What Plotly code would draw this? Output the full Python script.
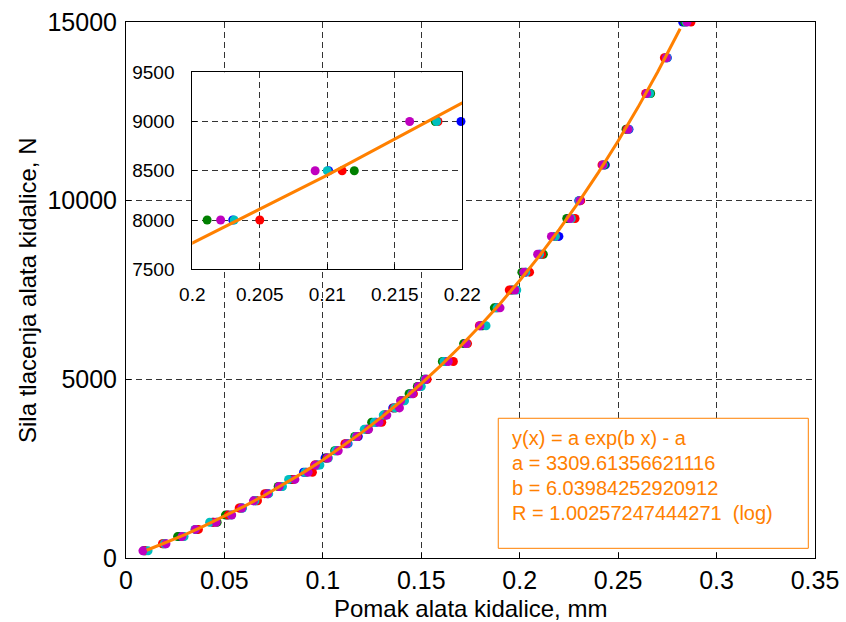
import plotly.graph_objects as go

# Force levels (N)
levels = [200, 400, 600, 800, 1000, 1200, 1400, 1600, 1800, 2000,
          2200, 2400, 2600, 2800, 3000, 3200, 3400, 3600, 3800, 4000,
          4200, 4400, 4600, 4800, 5000, 5500, 6000, 6500, 7000, 7500,
          8000, 8500, 9000, 9500, 10000, 11000, 12000, 13000, 14000, 15000]

# Displacement (mm) of each measurement series at each force level
x_blue = [.0090, .0200, .0270, .0360, .0440, .0515, .0590, .0650, .0722, .0790,
          .0838, .0902, .0975, .1011, .1070, .1128, .1180, .1225, .1270, .1320,
          .1355, .1402, .1445, .1490, .1525, .1620, .1722, .1805, .1880, .1955,
          .2030, .2101, .2199, .2248, .2300, .2435, .2555, .2648, .2750, .2828]
x_green = [.0095, .0190, .0262, .0355, .0463, .0505, .0580, .0660, .0716, .0773,
           .0845, .0915, .0965, .1018, .1060, .1118, .1162, .1230, .1248, .1310,
           .1370, .1397, .1438, .1480, .1515, .1607, .1715, .1812, .1871, .1965,
           .2011, .2120, .2180, .2239, .2305, .2430, .2540, .2665, .2742, .2838]
x_red = [.0100, .0185, .0290, .0368, .0445, .0520, .0575, .0668, .0705, .0785,
         .0850, .0947, .0958, .1022, .1075, .1112, .1175, .1218, .1299, .1315,
         .1360, .1410, .1460, .1495, .1530, .1663, .1735, .1795, .1890, .1947,
         .2050, .2111, .2182, .2281, .2310, .2418, .2545, .2640, .2735, .2870]
x_cyan = [.0112, .0195, .0295, .0350, .0425, .0535, .0592, .0655, .0725, .0795,
          .0826, .0910, .0985, .1028, .1065, .1125, .1168, .1210, .1262, .1307,
          .1365, .1415, .1451, .1500, .1519, .1615, .1728, .1829, .1885, .1985,
          .2031, .2100, .2181, .2262, .2302, .2425, .2552, .2660, .2748, .2845]
x_magenta = [.0086, .0203, .0284, .0352, .0458, .0537, .0588, .0648, .0719, .0778,
             .0858, .0925, .0962, .1025, .1078, .1120, .1172, .1232, .1285, .1325,
             .1389, .1395, .1455, .1485, .1522, .1637, .1727, .1798, .1900, .1975,
             .2021, .2091, .2161, .2255, .2306, .2422, .2550, .2645, .2745, .2850]

# Fitted curve y(x) = a exp(b x) - a
fit_x = [0.0105, 0.02, 0.03, 0.04, 0.05, 0.06, 0.07, 0.08, 0.09, 0.10,
         0.11, 0.12, 0.13, 0.14, 0.15, 0.16, 0.17, 0.18, 0.19, 0.20,
         0.21, 0.22, 0.23, 0.24, 0.25, 0.26, 0.27, 0.2815]
fit_y = [217, 425, 657, 905, 1167, 1446, 1742, 2056, 2390, 2745,
         3122, 3523, 3948, 4400, 4880, 5389, 5931, 6507, 7118, 7766,
         8456, 9189, 9967, 10793, 11671, 12604, 13594, 14811]

fit_text = ["y(x) = a exp(b x) - a",
            "a = 3309.61356621116",
            "b = 6.03984252920912",
            "R = 1.00257247444271\u00a0\u00a0(log)"]

main_xticks = [0, 0.05, 0.1, 0.15, 0.2, 0.25, 0.3, 0.35]
main_xlabels = ["0", "0.05", "0.1", "0.15", "0.2", "0.25", "0.3", "0.35"]
main_yticks = [0, 5000, 10000, 15000]
main_ylabels = ["0", "5000", "10000", "15000"]
inset_xticks = [0.2, 0.205, 0.21, 0.215, 0.22]
inset_xlabels = ["0.2", "0.205", "0.21", "0.215", "0.22"]
inset_yticks = [7500, 8000, 8500, 9000, 9500]
inset_ylabels = ["7500", "8000", "8500", "9000", "9500"]

series = [("b", x_blue, "#0000FF"), ("g", x_green, "#008000"),
          ("r", x_red, "#FF0000"), ("c", x_cyan, "#00BFBF"),
          ("m", x_magenta, "#BF00BF")]
ORANGE = "#FF8000"
FONT = "Liberation Sans, Arial, sans-serif"

fig = go.Figure()

for name, xs, col in series:
    fig.add_trace(go.Scatter(x=xs, y=levels, mode="markers", name=name,
                             marker=dict(color=col, size=9, line=dict(width=0)),
                             xaxis="x", yaxis="y", showlegend=False))
fig.add_trace(go.Scatter(x=fit_x, y=fit_y, mode="lines",
                         line=dict(color=ORANGE, width=3),
                         xaxis="x", yaxis="y", showlegend=False))

# inset
for name, xs, col in series:
    px = [x for x, y in zip(xs, levels) if 0.2 <= x <= 0.22 and 7500 <= y <= 9500]
    py = [y for x, y in zip(xs, levels) if 0.2 <= x <= 0.22 and 7500 <= y <= 9500]
    fig.add_trace(go.Scatter(x=px, y=py, mode="markers",
                             marker=dict(color=col, size=9, line=dict(width=0)),
                             xaxis="x2", yaxis="y2", showlegend=False,
                             cliponaxis=False))
fig.add_trace(go.Scatter(x=fit_x, y=fit_y, mode="lines",
                         line=dict(color=ORANGE, width=3),
                         xaxis="x2", yaxis="y2", showlegend=False))

grid = dict(showgrid=True, gridcolor="#333333", gridwidth=1, griddash="6px,4px",
            showline=True, linecolor="black", linewidth=1, mirror=True,
            ticks="inside", ticklen=5, tickcolor="black", zeroline=False,
            automargin=False)

fig.update_layout(
    width=846, height=622,
    margin=dict(l=126, r=31, t=22, b=64),
    paper_bgcolor="white", plot_bgcolor="white",
    font=dict(family=FONT, color="black"),
    showlegend=False,
    xaxis=dict(range=[0, 0.35], tickvals=main_xticks, ticktext=main_xlabels,
               tickfont=dict(size=25), ticklabelstandoff=0, **grid),
    yaxis=dict(range=[0, 15000], tickvals=main_yticks, ticktext=main_ylabels,
               tickfont=dict(size=25), ticklabelstandoff=3, **grid),
    xaxis2=dict(domain=[0.0962, 0.4881], anchor="y2", range=[0.2, 0.22],
                tickvals=inset_xticks, ticktext=inset_xlabels,
                tickfont=dict(size=19), ticklabelstandoff=8, **grid),
    yaxis2=dict(domain=[0.5386, 0.9062], anchor="x2", range=[7500, 9500],
                tickvals=inset_yticks, ticktext=inset_ylabels,
                tickfont=dict(size=19), ticklabelstandoff=13, **grid),
)

fig.add_annotation(text="Pomak alata kidalice, mm", xref="paper", yref="paper",
                   x=0.5, y=-0.0951, xanchor="center", yanchor="middle",
                   showarrow=False, font=dict(size=24))
fig.add_annotation(text="Sila tlacenja alata kidalice, N", xref="paper", yref="paper",
                   x=-0.1437, y=0.5, xanchor="center", yanchor="middle",
                   textangle=-90, showarrow=False, font=dict(size=24))

# fit result box
fig.add_shape(type="rect", xref="x", yref="y", x0=0.1891, x1=0.3466, y0=271, y1=3910,
              line=dict(color=ORANGE, width=1), fillcolor="white", layer="above")
for t, yc in zip(fit_text, [3350, 2651, 1951, 1251]):
    fig.add_annotation(text=t, xref="x", yref="y", x=0.19506, y=yc,
                       xanchor="left", yanchor="middle", showarrow=False,
                       font=dict(size=20, color=ORANGE))

# remove the default page margin so the figure fills the 846x622 window exactly
fig.write_html("out.html", config={"displayModeBar": False},
               post_script="document.body.style.margin='0';document.body.style.padding='0';")
